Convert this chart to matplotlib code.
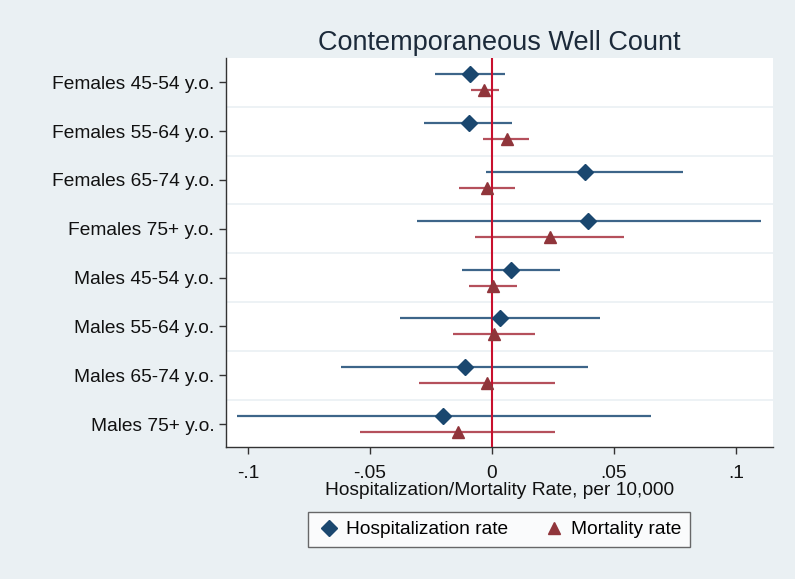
import numpy as np
import matplotlib
matplotlib.use("Agg")
import matplotlib.pyplot as plt
from matplotlib.lines import Line2D

plt.rcParams['font.family'] = ['Liberation Sans', 'DejaVu Sans']

# Groups, top to bottom
groups = ["Females 45-54 y.o.", "Females 55-64 y.o.", "Females 65-74 y.o.", "Females 75+ y.o.",
          "Males 45-54 y.o.", "Males 55-64 y.o.", "Males 65-74 y.o.", "Males 75+ y.o."]

# Hospitalization rate: estimate and 95% CI
hosp = [-0.0090, -0.0096, 0.0382, 0.0395, 0.0079, 0.0035, -0.0111, -0.0200]
hosp_lo = [-0.0235, -0.0278, -0.0026, -0.0308, -0.0124, -0.0376, -0.0617, -0.1047]
hosp_hi = [0.0055, 0.0082, 0.0783, 0.1102, 0.0278, 0.0441, 0.0394, 0.0650]

# Mortality rate: estimate and 95% CI
mort = [-0.0032, 0.0060, -0.0021, 0.0237, 0.0005, 0.0008, -0.0021, -0.0140]
mort_lo = [-0.0087, -0.0035, -0.0136, -0.0070, -0.0092, -0.0159, -0.0301, -0.0540]
mort_hi = [0.0029, 0.0153, 0.0093, 0.0542, 0.0102, 0.0177, 0.0260, 0.0260]

xticks = [-0.1, -0.05, 0, 0.05, 0.1]
xtick_labels = ["-.1", "-.05", "0", ".05", ".1"]

bg = "#eaf0f3"
navy = "#1a476f"
maroon = "#90353b"
navy_ci = "#3d6589"
maroon_ci = "#b5505c"
fs = 13.8

fig = plt.figure(figsize=(7.95, 5.79), dpi=100, facecolor=bg)
ax = fig.add_axes([0.2843, 0.228, 0.688, 0.672])
ax.set_facecolor("white")

pos = np.arange(len(groups))
off = 0.165

h = np.array(hosp)
m = np.array(mort)
ax.hlines(pos - off, hosp_lo, hosp_hi, color=navy_ci, lw=1.6, zorder=2)
ax.hlines(pos + off, mort_lo, mort_hi, color=maroon_ci, lw=1.6, zorder=2)
ax.axvline(0, color="#c8102e", lw=1.5, zorder=3)
ax.plot(h, pos - off, "D", color=navy, ms=8, zorder=4, lw=0)
ax.plot(m, pos + off, "^", color=maroon, ms=9, zorder=4, lw=0)

# grid lines between groups
for yy in pos[:-1] + 0.5:
    ax.axhline(yy, color=bg, lw=1.2, zorder=1)

ax.set_ylim(len(groups) - 0.53, -0.5)
ax.set_xlim(-0.109, 0.1152)
ax.set_yticks(pos)
ax.set_yticklabels(groups, fontsize=fs)
ax.set_xticks(xticks)
ax.set_xticklabels(xtick_labels, fontsize=fs)
ax.tick_params(axis="both", length=5, width=1, color="#333333", labelcolor="#111111", pad=3.5)
ax.tick_params(axis="x", pad=8)

for s in ["top", "right"]:
    ax.spines[s].set_visible(False)
for s in ["left", "bottom"]:
    ax.spines[s].set_color("#333333")
    ax.spines[s].set_linewidth(1)

ax.set_xlabel("Hospitalization/Mortality Rate, per 10,000", fontsize=fs, color="#111111", labelpad=0)
ax.set_title("Contemporaneous Well Count", fontsize=19.5, color="#1c2a3a", pad=6)

handles = [Line2D([], [], marker="D", color=navy, ls="", ms=8, label="Hospitalization rate"),
           Line2D([], [], marker="^", color=maroon, ls="", ms=9, label="Mortality rate")]
leg = fig.legend(handles=handles, loc="center", bbox_to_anchor=(0.628, 0.085), ncol=2,
                 fontsize=fs, frameon=True, fancybox=False, handletextpad=0.3,
                 columnspacing=1.8, handlelength=1.2, borderpad=0.45)
leg.get_frame().set_edgecolor("#444444")
leg.get_frame().set_linewidth(1)

fig.savefig("out.png", dpi=100, facecolor=bg)
